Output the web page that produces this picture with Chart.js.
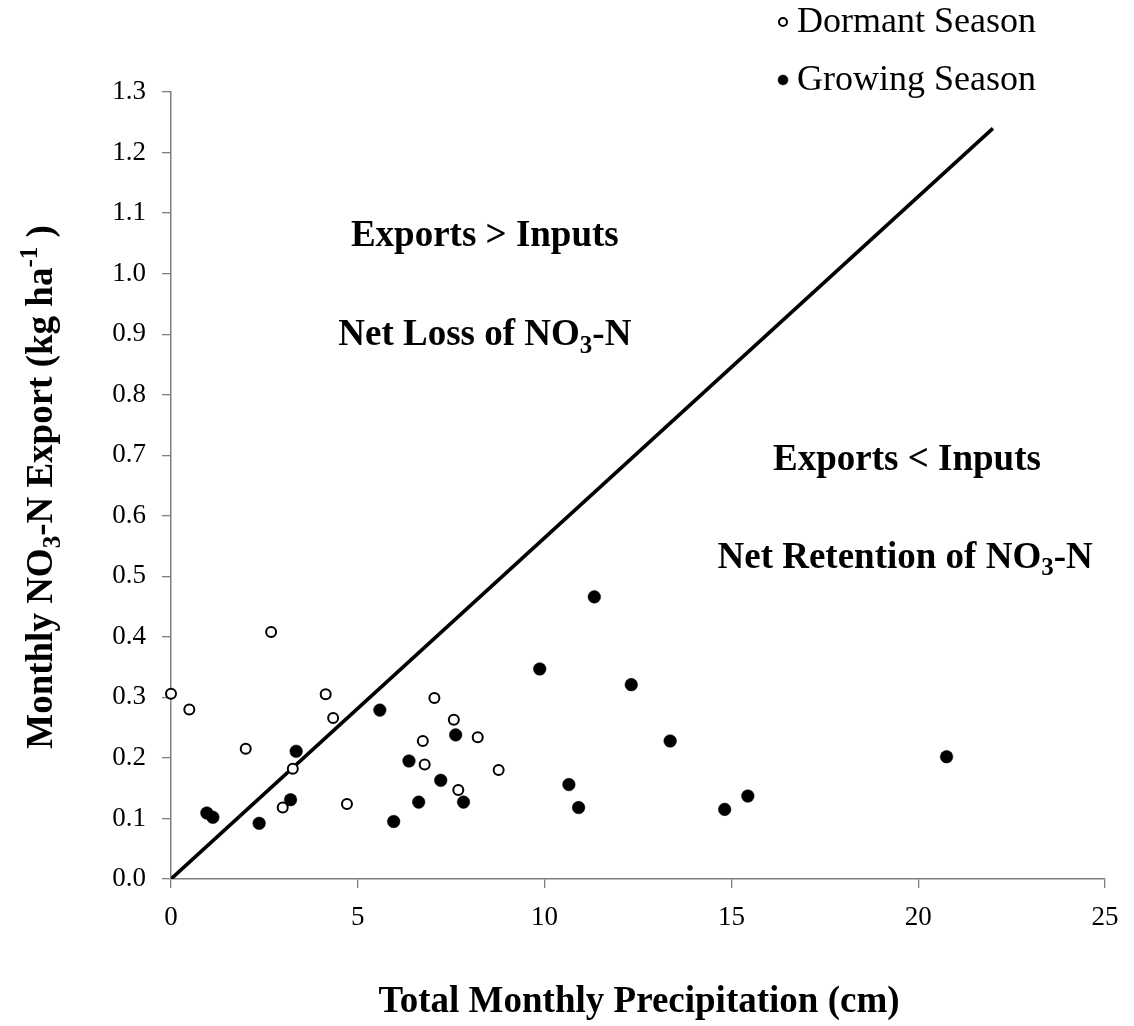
<!DOCTYPE html>
<html>
<head>
<meta charset="utf-8">
<script src="https://cdn.jsdelivr.net/npm/chart.js@4.4.1/dist/chart.umd.min.js"></script>
<style>
  html, body { margin: 0; padding: 0; background: #ffffff; }
  #wrap { width: 1134px; height: 1026px; position: relative; }
</style>
</head>
<body>
<div id="wrap"><canvas id="chart" width="1134" height="1026"></canvas></div>
<script>
// Monthly precipitation (cm) and NO3-N export (kg/ha) by season
const dormantPrecip = [0, 0.49, 2.68, 2.0, 4.14, 4.34, 3.26, 2.99, 4.71, 7.05, 7.57, 6.74, 8.21, 6.79, 8.77, 7.69];
const dormantExport = [0.306, 0.280, 0.408, 0.215, 0.305, 0.266, 0.182, 0.118, 0.124, 0.299, 0.263, 0.228, 0.234, 0.189, 0.180, 0.147];

const growingPrecip = [0.96, 1.12, 2.36, 3.35, 3.20, 5.59, 6.37, 7.62, 7.22, 6.63, 7.83, 5.96, 11.33, 9.87, 12.32, 13.36, 10.65, 10.91, 14.82, 15.44, 20.76];
const growingExport = [0.109, 0.102, 0.092, 0.211, 0.131, 0.279, 0.195, 0.238, 0.163, 0.127, 0.127, 0.095, 0.466, 0.347, 0.321, 0.228, 0.156, 0.118, 0.115, 0.137, 0.202];

// Input line: export equal to atmospheric input
const balancePrecip = [0, 22];
const balanceExport = [0, 1.24];

const xTicks = [0, 5, 10, 15, 20, 25];
const yTicks = [0, 0.1, 0.2, 0.3, 0.4, 0.5, 0.6, 0.7, 0.8, 0.9, 1.0, 1.1, 1.2, 1.3];

const seriesNames = ['Dormant Season', 'Growing Season'];

const FAMILY = "'Liberation Serif', 'Times New Roman', serif";
const AXIS_GRAY = '#7f7f7f';

const toPoints = (xs, ys) => xs.map((x, i) => ({ x: x, y: ys[i] }));

// Text blocks with chemical-formula sub/superscripts
const notes = [
  { x: 8.4, y: 1.065, parts: [{ t: 'Exports > Inputs' }] },
  { x: 8.4, y: 0.902, parts: [{ t: 'Net Loss of NO' }, { t: '3', sub: true }, { t: '-N' }] },
  { x: 19.7, y: 0.695, parts: [{ t: 'Exports < Inputs' }] },
  { x: 19.65, y: 0.534, parts: [{ t: 'Net Retention of NO' }, { t: '3', sub: true }, { t: '-N' }] }
];

function partFont(p, size, weight) {
  const s = (p.sub || p.sup) ? Math.round(size * 0.68) : size;
  return weight + ' ' + s + 'px ' + FAMILY;
}
function richWidth(ctx, parts, size, weight) {
  let w = 0;
  parts.forEach(p => { ctx.font = partFont(p, size, weight); w += ctx.measureText(p.t).width; });
  return w;
}
// Draws a run of text centred at (cx, cy)
function drawRich(ctx, parts, cx, cy, size, weight) {
  const w = richWidth(ctx, parts, size, weight);
  let x = cx - w / 2;
  const base = cy + size * 0.33;
  ctx.textAlign = 'left';
  ctx.textBaseline = 'alphabetic';
  ctx.fillStyle = '#000';
  parts.forEach(p => {
    ctx.font = partFont(p, size, weight);
    let y = base;
    if (p.sub) y += size * 0.2;
    if (p.sup) y -= size * 0.4;
    ctx.fillText(p.t, x, y);
    x += ctx.measureText(p.t).width;
  });
}

const decorations = {
  id: 'decorations',
  afterDraw(chart) {
    const ctx = chart.ctx;
    const xs = chart.scales.x, ys = chart.scales.y;
    ctx.save();

    // region notes
    notes.forEach(n => drawRich(ctx, n.parts, xs.getPixelForValue(n.x), ys.getPixelForValue(n.y), 37, 'bold'));

    // axis titles
    drawRich(ctx, [{ t: 'Total Monthly Precipitation (cm)' }], 639, 1000, 37, 'bold');
    ctx.save();
    ctx.translate(40, 487);
    ctx.rotate(-Math.PI / 2);
    drawRich(ctx, [
      { t: 'Monthly NO' }, { t: '3', sub: true }, { t: '-N Export (kg ha' }, { t: '-1', sup: true }, { t: ' )' }
    ], 0, 0, 37, 'bold');
    ctx.restore();

    // legend
    const rows = [
      { ds: chart.data.datasets[0], y: 22 },
      { ds: chart.data.datasets[1], y: 80 }
    ];
    rows.forEach(r => {
      ctx.beginPath();
      ctx.arc(783, r.y, r.ds.legendRadius, 0, Math.PI * 2);
      ctx.fillStyle = r.ds.backgroundColor;
      ctx.fill();
      ctx.lineWidth = r.ds.borderWidth;
      ctx.strokeStyle = r.ds.borderColor;
      ctx.stroke();
      ctx.fillStyle = '#000';
      ctx.font = '36px ' + FAMILY;
      ctx.textAlign = 'left';
      ctx.textBaseline = 'middle';
      ctx.fillText(r.ds.label, 797, r.y + 1);
    });
    ctx.restore();
  }
};

new Chart(document.getElementById('chart'), {
  type: 'scatter',
  data: {
    datasets: [
      {
        label: seriesNames[0],
        data: toPoints(dormantPrecip, dormantExport),
        pointRadius: 5,
        pointHoverRadius: 5,
        backgroundColor: '#ffffff',
        borderColor: '#000000',
        borderWidth: 2,
        legendRadius: 4,
        clip: false,
        order: 1
      },
      {
        label: seriesNames[1],
        data: toPoints(growingPrecip, growingExport),
        pointRadius: 6.3,
        pointHoverRadius: 6.3,
        backgroundColor: '#000000',
        borderColor: '#000000',
        borderWidth: 0.5,
        legendRadius: 5,
        clip: false,
        order: 1
      },
      {
        label: 'balance',
        data: toPoints(balancePrecip, balanceExport),
        showLine: true,
        borderColor: '#000000',
        borderWidth: 3.6,
        pointRadius: 0,
        fill: false,
        order: 3
      }
    ]
  },
  options: {
    responsive: false,
    animation: false,
    events: [],
    layout: { padding: { top: 92, right: 29, left: 0, bottom: 0 } },
    plugins: { legend: { display: false }, tooltip: { enabled: false } },
    scales: {
      x: {
        type: 'linear',
        min: 0, max: 25,
        afterFit(s) { s.height = 147; },
        afterBuildTicks(s) { s.ticks = xTicks.map(v => ({ value: v })); },
        ticks: { font: { family: FAMILY, size: 27 }, color: '#000', padding: 14, maxRotation: 0 },
        grid: { drawOnChartArea: false, drawTicks: true, tickLength: 9, color: AXIS_GRAY, lineWidth: 1.3 },
        border: { display: true, color: AXIS_GRAY, width: 1.5 }
      },
      y: {
        type: 'linear',
        min: 0, max: 1.3,
        afterFit(s) { s.width = 171; },
        afterBuildTicks(s) { s.ticks = yTicks.map(v => ({ value: v })); },
        ticks: { font: { family: FAMILY, size: 27 }, color: '#000', padding: 16, callback: v => Number(v).toFixed(1) },
        grid: { drawOnChartArea: false, drawTicks: true, tickLength: 9, color: AXIS_GRAY, lineWidth: 1.3 },
        border: { display: true, color: AXIS_GRAY, width: 1.5 }
      }
    }
  },
  plugins: [decorations]
});
</script>
</body>
</html>
